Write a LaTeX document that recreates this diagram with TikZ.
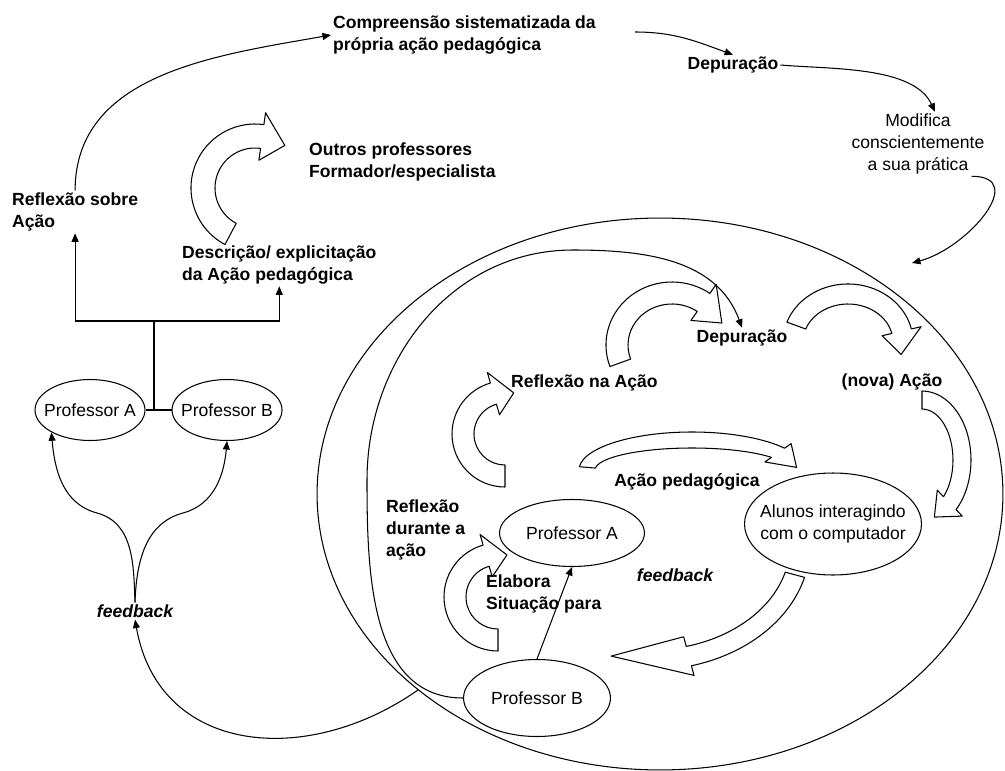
\documentclass[tikz,border=0pt]{standalone}
\usepackage{fontspec}
\setmainfont{Liberation Sans}
\usetikzlibrary{positioning,arrows.meta,shapes.geometric,calc}
% hollow curved block arrow: cx, cy, x radius, y radius, start, end, half width, head angle
\newcommand{\hollowarc}[8]{%
  \pgfmathsetmacro{\hb}{#6-#8*sign(#6-#5)}%
  \pgfmathsetmacro{\rxo}{#3+#7}\pgfmathsetmacro{\ryo}{#4+#7}%
  \pgfmathsetmacro{\rxi}{#3-#7}\pgfmathsetmacro{\ryi}{#4-#7}%
  \draw[band] ({#1+\rxo*cos(#5)},{#2+\ryo*sin(#5)})
      arc[start angle=#5,end angle=\hb,x radius=\rxo,y radius=\ryo]
      -- ({#1+(#3+2*#7)*cos(\hb)},{#2+(#4+2*#7)*sin(\hb)})
      -- ({#1+#3*cos(#6)},{#2+#4*sin(#6)})
      -- ({#1+(#3-2*#7)*cos(\hb)},{#2+(#4-2*#7)*sin(\hb)})
      -- ({#1+\rxi*cos(\hb)},{#2+\ryi*sin(\hb)})
      arc[start angle=\hb,end angle=#5,x radius=\rxi,y radius=\ryi] -- cycle;}

\begin{document}
\begin{tikzpicture}[x=0.02cm,y=0.02cm,
    font=\fontsize{10}{12.5}\selectfont,
    lbl/.style={font=\fontsize{10}{12.5}\selectfont\bfseries,inner sep=1pt,align=left},
    txt/.style={inner sep=1pt,align=center},
    ell/.style={draw,ellipse,line width=0.6pt,inner xsep=-6pt,inner ysep=0pt,align=center},
    prof/.style={ell,minimum width=2.2cm,minimum height=1.22cm},
    arr/.style={-{Triangle[length=1.7mm,width=1.4mm]},line width=0.6pt},
    band/.style={line width=0.6pt,line join=round}]
  \useasboundingbox (0,0) rectangle (1005,-771);

  % reflexao sobre a acao (left)
  \node[lbl,anchor=west] (comp) at (331,-35) {Compreensão sistematizada da\\própria ação pedagógica};
  \node[lbl] (dep1) at (733,-65) {Depuração};
  \node[txt] (modif) at (918,-144) {Modifica\\conscientemente\\a sua prática};
  \node[lbl,anchor=west] (outros) at (307,-162) {Outros professores\\Formador/especialista};
  \node[lbl,anchor=west] (refsobre) at (10,-212) {Reflexão sobre\\Ação};
  \node[lbl,anchor=west] (desc) at (180,-265) {Descrição/ explicitação\\da Ação pedagógica};
  \node[prof] (profA1) at (90,-410) {Professor A};
  \node[prof,right=0.52cm of profA1] (profB1) {Professor B};
  \node[lbl] (fb1) at (135,-611) {\itshape feedback};
  \coordinate (fork) at (154,-321);
  \coordinate (c2s) at (635,-32);
  \coordinate (c4e) at (912,-263);

  \draw[line width=0.6pt] (profA1) -- (profB1);
  \draw[line width=0.6pt] (fork |- profA1.east) -- (fork);
  \draw[arr] (fork) -| (refsobre.south);
  \draw[arr] (fork) -| (desc.south);
  \draw[arr] (refsobre.north) to[out=90,in=190] (comp.west);
  \draw[arr] (c2s) to[out=0,in=160] (dep1.north);
  \draw[arr] (dep1.east) to[out=-5,in=115,looseness=0.8] ([xshift=0.34cm]modif.north);
  \draw[arr] ([xshift=-0.3cm]modif.south east) to[out=0,in=15,looseness=1.4] (c4e);
  \draw[arr] (fb1.north) to[out=92,in=-15] (97,-513) to[out=165,in=-85] (profA1.210);
  \draw[arr] (fb1.north) to[out=88,in=-165] (183,-513) to[out=15,in=-95] (profB1.south);
  \hollowarc{255}{-188}{52}{52}{242}{55}{12}{27}

  % reflexao na acao (right)
  \node[ell,minimum width=13.72cm,minimum height=11.04cm] (outer) at (660,-494) {};
  \node[lbl,anchor=west] (refna) at (509,-383) {Reflexão na Ação};
  \node[lbl] (dep2) at (742,-338) {Depuração};
  \node[lbl] (nova) at (892,-382) {(nova) Ação};
  \node[lbl] (acaoped) at (687,-482) {Ação pedagógica};
  \node[lbl,anchor=west] (refdur) at (384,-530) {Reflexão\\durante a\\ação};
  \node[ell,minimum width=2.9cm,minimum height=1.34cm] (profA2) at (572,-533) {Professor A};
  \node[ell,minimum width=3.54cm,minimum height=2.04cm] (alunos) at (833,-524) {Alunos interagindo\\com o computador};
  \node[lbl] (fb2) at (675,-575) {\itshape feedback};
  \node[lbl,anchor=west] (elab) at (484,-594) {Elabora\\Situação para};
  \node[ell,minimum width=2.94cm,minimum height=1.54cm] (profB2) at (537,-698) {Professor B};

  \draw[arr] (profB2.north) -- (profA2.south);
  \draw[arr] (profB2.west) to[out=180,in=-90] (367,-480) to[out=90,in=180] (573,-250)
        to[out=0,in=110] (dep2.north);
  \draw[arr] (outer.219) to[out=215,in=-80,looseness=1.2] (fb1.south);
  \hollowarc{505}{-434}{42}{42}{270}{78}{11}{28}
  \hollowarc{498}{-597}{43}{43}{270}{78}{11}{28}
  \hollowarc{672}{-345}{55}{52}{200}{25}{11}{30}
  \hollowarc{692}{-470}{105}{30}{175}{5}{8}{30}
  \hollowarc{848}{-342}{55}{48}{160}{-15}{10}{28}
  \hollowarc{922}{-460}{40}{60}{90}{-72}{9}{26}
  \hollowarc{650}{-545}{150}{115}{-15}{-105}{10}{30}
\end{tikzpicture}
\end{document}
